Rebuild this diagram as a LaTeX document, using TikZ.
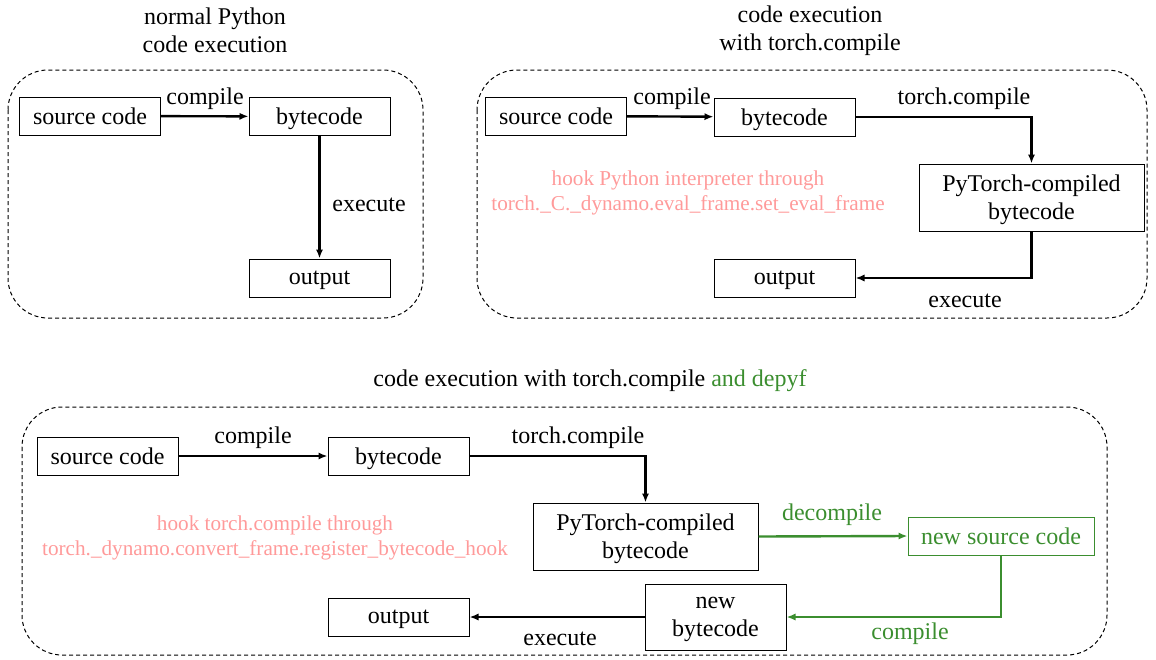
\documentclass[tikz,border=0pt]{standalone}
\usepackage{fontspec}
\setmainfont{Liberation Serif}
\usetikzlibrary{arrows.meta,positioning}
\definecolor{HookPink}{HTML}{FF9A9A}
\definecolor{DepyfGreen}{HTML}{3B8E2F}

\begin{document}
\begin{tikzpicture}[x=0.5pt,y=-0.5pt,>={Latex[length=4.5pt,width=3.6pt]},
 font=\fontsize{12}{14}\selectfont,
 blk/.style={draw,line width=.5pt,minimum width=70.5pt,minimum height=19pt,inner sep=1pt,text depth=0pt,align=center},
 big/.style={blk,minimum width=112.5pt,minimum height=33.5pt},
 newsrcblk/.style={blk,draw=DepyfGreen,text=DepyfGreen,minimum width=93pt},
 flow/.style={->,line width=1.2pt},
 dflow/.style={flow,draw=DepyfGreen},
 frame/.style={dash pattern=on 2pt off 1.5pt,line width=.5pt,rounded corners=20pt},
 hook/.style={text=HookPink,align=center,yshift=-1pt,font=\fontsize{10.6}{12.5}\selectfont},
 lbl/.style={inner sep=1pt,yshift=-1pt},
 title/.style={align=center}]
\useasboundingbox (0,0) rectangle (1156,659);

% normal Python
\node[title] (titleA) at (215,30) {normal Python\\code execution};
\draw[frame] (8,70) rectangle (423,318);
\node[blk] (srcA) at (90,116) {source code};
\node[blk] (byteA) at (319.5,116.5) {bytecode};
\node[blk] (outA) at (319.5,278) {output};
\node[lbl] (cmpA) at (205,97) {compile};
\node[lbl] (exeA) at (369,203) {execute};
\draw[flow] (srcA) -- (byteA);
\draw[flow] (byteA) -- (outA);

% with torch.compile
\node[title] (titleB) at (810,31) {code execution\\with torch.compile};
\draw[frame] (477,70) rectangle (1147,318);
\node[blk] (srcB) at (556,116) {source code};
\node[blk] (byteB) at (784.5,117) {bytecode};
\node[big] (ptB) at (1031.5,197.5) {PyTorch-compiled\\bytecode};
\node[blk] (outB) at (784.5,278) {output};
\node[lbl] (cmpB) at (672,97) {compile};
\node[lbl] (tcB) at (964,97) {torch.compile};
\node[lbl] (exeB) at (965,299) {execute};
\node[hook] (hookB) at (688,191) {hook Python interpreter through\\torch.\_C.\_dynamo.eval\_frame.set\_eval\_frame};
\draw[flow] (srcB) -- (byteB);
\draw[flow] (byteB.east) -| (ptB.north);
\draw[flow] (ptB.south) |- (outB.east);

% with torch.compile and depyf
\node (titleC) at (590,381) {code execution with torch.compile {\color{DepyfGreen}and depyf}};
\draw[frame] (22,407) rectangle (1107,655);
\node[blk] (srcC) at (107.5,456) {source code};
\node[blk] (byteC) at (398.5,456) {bytecode};
\node[big] (ptC) at (645.5,536.5) {PyTorch-compiled\\bytecode};
\node[newsrcblk] (newsrc) at (1001,536) {new source code};
\node[blk,minimum height=33pt] (newbyte) at (715.5,617) {new\\bytecode};
\node[blk] (outC) at (398.5,617) {output};
\node[lbl] (cmpC) at (253,436) {compile};
\node[lbl] (tcC) at (578,436) {torch.compile};
\node[lbl,text=DepyfGreen] (decC) at (832,513) {decompile};
\node[lbl,text=DepyfGreen] (recC) at (910,632) {compile};
\node[lbl] (exeC) at (560,637) {execute};
\node[hook] (hookC) at (275,536) {hook torch.compile through\\torch.\_dynamo.convert\_frame.register\_bytecode\_hook};
\draw[flow] (srcC) -- (byteC);
\draw[flow] (byteC.east) -| (ptC.north);
\draw[dflow] (ptC.east) -- (newsrc.west);
\draw[dflow] (newsrc.south) |- (newbyte.east);
\draw[flow] (newbyte) -- (outC);
\end{tikzpicture}
\end{document}
